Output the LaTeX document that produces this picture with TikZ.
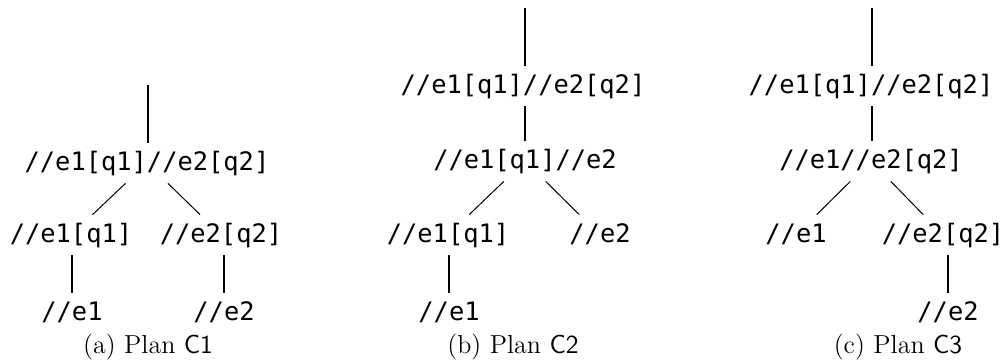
\documentclass[tikz,border=0pt]{standalone}
\usepackage{fontspec}
\newfontfamily\xpathfont{DejaVu Sans Mono}
\tikzset{
  xp/.style={font=\xpathfont\fontsize{12.7}{15}\selectfont, inner xsep=1pt, inner ysep=0pt,
    text height=9.5pt, text depth=2.5pt, minimum height=20pt},
  plancap/.style={font=\fontsize{13}{15}\selectfont, inner sep=0pt},
  bar/.style={line width=1.3pt},
  twig/.style={line width=0.5pt},
}
\begin{document}
\begin{tikzpicture}[x=0.5pt,y=-0.5pt]
                \useasboundingbox (0,0) rectangle (1005,361);

                % plan C1
                \coordinate (atop) at (148,85);
                \node[xp] (a0) at (147,163) {//e1[q1]//e2[q2]};
                \node[xp] (a1) at (71,235) {//e1[q1]};
                \node[xp] (a2) at (221,235) {//e2[q2]};
                \node[xp] (a3) at (72,313) {//e1};
                \node[xp] (a4) at (224,313) {//e2};
                \draw[bar] (atop) -- (atop |- a0.north);
                \draw[twig] (a0) -- (a1);
                \draw[twig] (a0) -- (a2);
                \draw[bar] (a3 |- a1.south) -- (a3);
                \draw[bar] (a4 |- a2.south) -- (a4);
                \node[plancap] (acap) at (148,347) {(a) Plan \textsf{C1}};

                % plan C2
                \coordinate (btop) at (525,8);
                \node[xp] (b0) at (523,86) {//e1[q1]//e2[q2]};
                \node[xp] (b1) at (525,161) {//e1[q1]//e2};
                \node[xp] (b2) at (448,235) {//e1[q1]};
                \node[xp] (b3) at (600,235) {//e2};
                \node[xp] (b4) at (449,313) {//e1};
                \draw[bar] (btop) -- (btop |- b0.north);
                \draw[bar] (btop |- b0.south) -- (btop |- b1.north);
                \draw[twig] (b1) -- (b2);
                \draw[twig] (b1) -- (b3);
                \draw[bar] (b4 |- b2.south) -- (b4);
                \node[plancap] (bcap) at (513,347) {(b) Plan \textsf{C2}};

                % plan C3
                \coordinate (ctop) at (872,8);
                \node[xp] (c0) at (871,86) {//e1[q1]//e2[q2]};
                \node[xp] (c1) at (871,161) {//e1//e2[q2]};
                \node[xp] (c2) at (796,235) {//e1};
                \node[xp] (c3) at (943,235) {//e2[q2]};
                \node[xp] (c4) at (948,313) {//e2};
                \draw[bar] (ctop) -- (ctop |- c0.north);
                \draw[bar] (ctop |- c0.south) -- (ctop |- c1.north);
                \draw[twig] (c1) -- (c2);
                \draw[twig] (c1) -- (c3);
                \draw[bar] (c4 |- c3.south) -- (c4);
                \node[plancap] (ccap) at (898,347) {(c) Plan \textsf{C3}};
\end{tikzpicture}
\end{document}
